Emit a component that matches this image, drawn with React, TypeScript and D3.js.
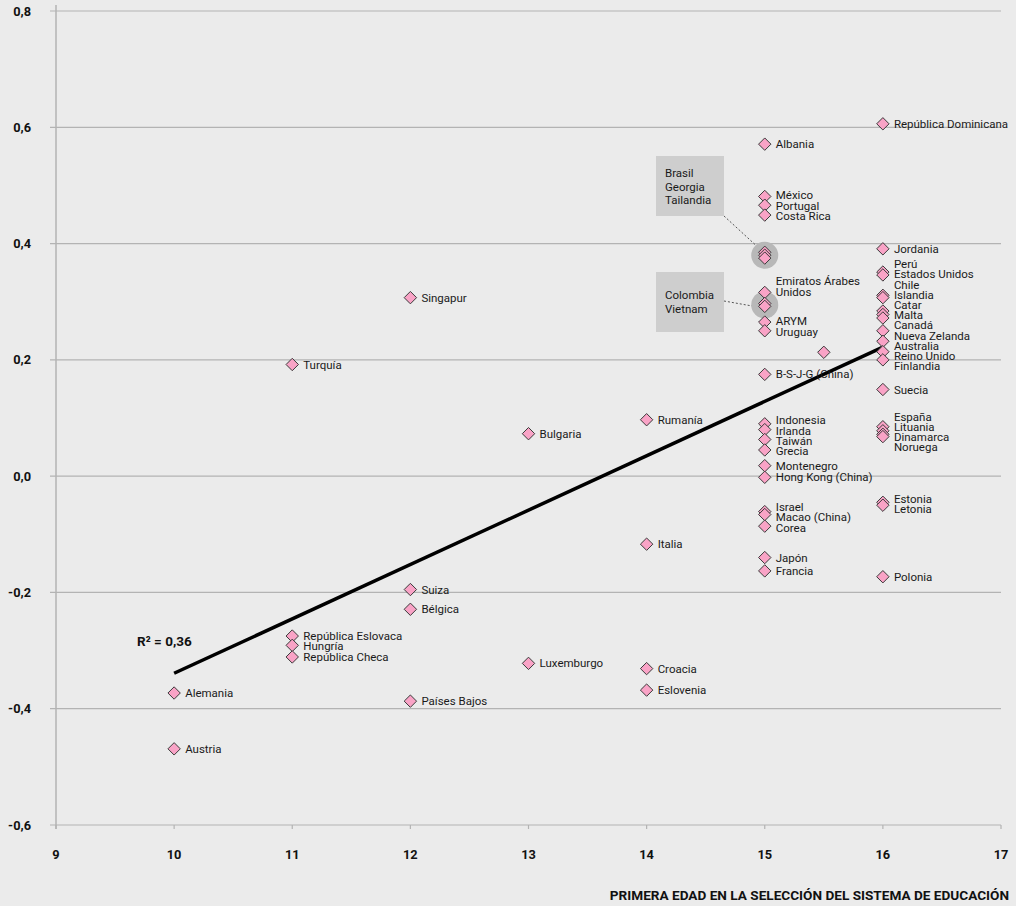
import React from "react";
import * as d3 from "d3";

// ---- data ----
const countries = [
  "Alemania", "Austria",
  "República Eslovaca", "Hungría", "República Checa", "Turquía",
  "Singapur", "Suiza", "Bélgica", "Países Bajos",
  "Bulgaria", "Luxemburgo",
  "Rumanía", "Italia", "Croacia", "Eslovenia",
  "Albania", "México", "Portugal", "Costa Rica", "Brasil", "Georgia", "Tailandia",
  "Emiratos Árabes\nUnidos", "Colombia", "Vietnam", "ARYM", "Uruguay", "B-S-J-G (China)",
  "Indonesia", "Irlanda", "Taiwán", "Grecia", "Montenegro", "Hong Kong (China)",
  "Israel", "Macao (China)", "Corea", "Japón", "Francia",
  "",
  "República Dominicana", "Jordania", "Perú", "Estados Unidos", "Chile", "Islandia",
  "Catar", "Malta", "Canadá", "Nueva Zelanda", "Australia", "Reino Unido", "Finlandia",
  "Suecia", "España", "Lituania", "Dinamarca", "Noruega", "Estonia", "Letonia", "Polonia",
];
const ages = [
  10, 10,
  11, 11, 11, 11,
  12, 12, 12, 12,
  13, 13,
  14, 14, 14, 14,
  15, 15, 15, 15, 15, 15, 15,
  15, 15, 15, 15, 15, 15,
  15, 15, 15, 15, 15, 15,
  15, 15, 15, 15, 15,
  15.5,
  16, 16, 16, 16, 16, 16,
  16, 16, 16, 16, 16, 16, 16,
  16, 16, 16, 16, 16, 16, 16, 16,
];
const scores = [
  -0.373, -0.469,
  -0.275, -0.291, -0.311, 0.192,
  0.307, -0.195, -0.229, -0.387,
  0.073, -0.322,
  0.097, -0.117, -0.331, -0.368,
  0.571, 0.481, 0.466, 0.449, 0.385, 0.38, 0.375,
  0.316, 0.297, 0.292, 0.265, 0.25, 0.175,
  0.09, 0.08, 0.063, 0.045, 0.018, -0.002,
  -0.061, -0.066, -0.086, -0.14, -0.163,
  0.213,
  0.606, 0.391, 0.351, 0.346, 0.311, 0.307,
  0.284, 0.278, 0.272, 0.25, 0.232, 0.214, 0.2,
  0.149, 0.085, 0.078, 0.072, 0.068, -0.045, -0.05, -0.173,
];
const groupA = ["Brasil", "Georgia", "Tailandia"];
const groupB = ["Colombia", "Vietnam"];
const xTicks = [9, 10, 11, 12, 13, 14, 15, 16, 17];
const yTicks = [-0.6, -0.4, -0.2, 0, 0.2, 0.4, 0.6, 0.8];
const trendAges = [10, 16];
const trendScores = [-0.339, 0.222];
const rSquaredLabel = "R² = 0,36";
const xTitle = "PRIMERA EDAD EN LA SELECCIÓN DEL SISTEMA DE EDUCACIÓN";

// ---- layout ----
const W = 1016, H = 906;
const FONT = "Roboto, 'Noto Sans', sans-serif";
const BG = "#ebebeb";
const GRID = "#b3b3b3";
const LABEL_SIZE = 11.5;

const x = d3.scaleLinear().domain([9, 17]).range([56, 1001]);
const y = d3.scaleLinear().domain([-0.6, 0.8]).range([825, 11]);

type Pt = { name: string; age: number; score: number; px: number; py: number; ly: number };

const points: Pt[] = countries.map((name, i) => ({
  name, age: ages[i], score: scores[i], px: x(ages[i]), py: y(scores[i]), ly: y(scores[i]),
}));

function layout(items: Pt[], gap: number) {
  const sorted = [...items].sort((a, b) => a.py - b.py);
  let clusters = sorted.map((p) => ({ items: [p], center: p.py }));
  const top = (c: any) => c.center - ((c.items.length - 1) * gap) / 2;
  const bottom = (c: any) => c.center + ((c.items.length - 1) * gap) / 2;
  let merged = true;
  while (merged) {
    merged = false;
    for (let i = 0; i < clusters.length - 1; i++) {
      const a = clusters[i], b = clusters[i + 1];
      if (bottom(a) + gap > top(b)) {
        const its = [...a.items, ...b.items];
        clusters.splice(i, 2, { items: its, center: d3.mean(its, (p) => p.py) as number });
        merged = true;
        break;
      }
    }
  }
  clusters.forEach((c) => c.items.forEach((p, i) => { p.ly = top(c) + i * gap; }));
}

const hidden = new Set([...groupA, ...groupB, ""]);
const labelled = points.filter((p) => !hidden.has(p.name));
d3.groups(labelled, (p) => p.age).forEach(([, items]) => layout(items, 10.2));

const diamond = (cx: number, cy: number, r: number) =>
  `M${cx},${cy - r}L${cx + r},${cy}L${cx},${cy + r}L${cx - r},${cy}Z`;

const fmt = (v: number) => d3.format(".1f")(v).replace(".", ",").replace("−", "-");

function groupCenter(names: string[]) {
  const ps = points.filter((p) => names.includes(p.name));
  return { cx: d3.mean(ps, (p) => p.px) as number, cy: d3.mean(ps, (p) => p.py) as number };
}

export default function App() {
  const gA = groupCenter(groupA);
  const gB = groupCenter(groupB);
  const line = d3.line<number>().x((d) => x(d)).y((_, i) => y(trendScores[i]));
  return (
    <svg width={W} height={H} style={{ position: "absolute", left: 0, top: 0, display: "block" }} fontFamily={FONT}>
      <rect width={W} height={H} fill={BG} />
      {/* grid */}
      {yTicks.map((t) => (
        <line key={t} x1={50} x2={1001} y1={y(t)} y2={y(t)} stroke={GRID} strokeWidth={1.2} />
      ))}
      <line x1={56} x2={56} y1={5} y2={829} stroke={GRID} strokeWidth={1.5} />
      {xTicks.map((t) => (
        <line key={t} x1={x(t)} x2={x(t)} y1={825} y2={829} stroke={GRID} strokeWidth={1.2} />
      ))}
      {yTicks.map((t) => (
        <text key={t} x={31} y={y(t)} dy="0.36em" textAnchor="end" fontSize={12.8} fontWeight={700} fill="#111">
          {fmt(t)}
        </text>
      ))}
      {xTicks.map((t) => (
        <text key={t} x={x(t)} y={859} textAnchor="middle" fontSize={12.8} fontWeight={700} fill="#111">
          {t}
        </text>
      ))}
      <text x={1009} y={900} textAnchor="end" fontSize={13.6} fontWeight={700} fill="#111">
        {xTitle}
      </text>

      {/* annotation boxes */}
      <circle cx={gA.cx} cy={gA.cy} r={13.5} fill="#b8b8b8" />
      <circle cx={gB.cx} cy={gB.cy} r={13.5} fill="#b8b8b8" />
      <rect x={656} y={156} width={68} height={60} fill="#cecece" />
      <rect x={656} y={272} width={68} height={60} fill="#cecece" />
      <line x1={724} y1={216} x2={gA.cx - 9} y2={gA.cy - 10} stroke="#555" strokeWidth={1} strokeDasharray="2,2" />
      <line x1={724} y1={301} x2={gB.cx - 13} y2={gB.cy + 1} stroke="#555" strokeWidth={1} strokeDasharray="2,2" />
      {groupA.map((n, i) => (
        <text key={n} x={665} y={173 + i * 13.5} dy="0.35em" fontSize={LABEL_SIZE} fill="#1a1a1a">{n}</text>
      ))}
      {groupB.map((n, i) => (
        <text key={n} x={665} y={295 + i * 14} dy="0.35em" fontSize={LABEL_SIZE} fill="#1a1a1a">{n}</text>
      ))}

      {/* trend */}
      <path d={line(trendAges) as string} stroke="#000" strokeWidth={3.5} fill="none" />
      <text x={137} y={646} fontSize={13.5} fontWeight={700} fill="#111">{rSquaredLabel}</text>

      {/* markers */}
      {points.map((p, i) => (
        <path key={i} d={diamond(p.px, p.py, 6.2)} fill="#f9a3c6" stroke="#3a3a3a" strokeWidth={1} />
      ))}
      {/* labels */}
      {labelled.map((p, i) => {
        const lines = p.name.split("\n");
        return lines.map((l, j) => (
          <text key={i + "-" + j} x={p.px + 11} y={p.ly - (lines.length - 1 - j) * 11} dy="0.35em" fontSize={LABEL_SIZE} fill="#1a1a1a">
            {l}
          </text>
        ));
      })}
    </svg>
  );
}
